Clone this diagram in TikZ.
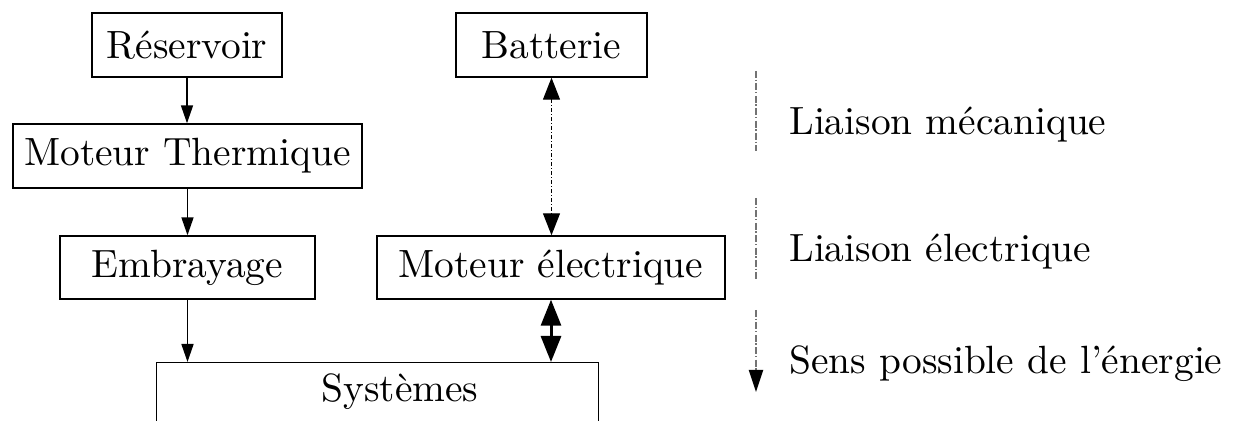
\documentclass[tikz,border=0pt]{standalone}
\usepackage{fontspec}
\setmainfont{lmroman10-regular}[Extension=.otf]
\usetikzlibrary{arrows.meta}
\newcommand\bigtxt{\fontsize{19.7}{23.6}\selectfont}
\begin{document}
\begin{tikzpicture}[x=0.5pt,y=-0.5pt,
  box/.style={draw, line width=0.7pt, font=\bigtxt, inner sep=0pt, minimum height=32pt},
  legtext/.style={font=\bigtxt, anchor=base west, inner sep=0pt},
  mecarrow/.style={line width=0.8pt, -{Triangle[length=9pt,width=6pt]}},
  elecarrow/.style={line width=0.6pt, dash pattern=on 2pt off 1pt on 0.5pt off 1pt,
    {Triangle[length=11pt,width=8.5pt]}-{Triangle[length=11pt,width=8.5pt]}},
  energyarrow/.style={line width=1.5pt,
    {Triangle[length=13pt,width=10pt]}-{Triangle[length=13pt,width=10pt]}},
  legline/.style={line width=1pt, black!55, dash pattern=on 3.5pt off 0.8pt on 0.7pt off 1.2pt}
]
\useasboundingbox (0,0) rectangle (1233,421);
\clip (0,0) rectangle (1233,421);

\node[box, minimum width=95pt] (res) at (187,45) {Réservoir};
\node[box, minimum width=95.5pt] (bat) at (551.5,45) {Batterie};
\node[box, minimum width=174.5pt] (mt) at (187.5,156) {Moteur Thermique};
\node[box, minimum width=127.5pt, minimum height=31.5pt] (emb) at (187.5,267.5) {Embrayage};
\node[box, minimum width=174pt, minimum height=31.5pt] (mel) at (551,267.5) {Moteur électrique};
\node[box, minimum width=221pt, minimum height=60pt, anchor=north west] (sysbox) at (156,362) {};
\node[font=\bigtxt, anchor=base, inner sep=0pt] (sys) at (400,402) {Systèmes};

\draw[mecarrow] (res.south) -- (res.south |- mt.north);
\draw[mecarrow] (mt.south) -- (mt.south |- emb.north);
\draw[mecarrow] (emb.south) -- (emb.south |- sysbox.north);
\draw[elecarrow] (bat.south) -- (bat.south |- mel.north);
\draw[energyarrow] (mel.south) -- (mel.south |- sysbox.north);

\coordinate (m1) at (756,71);
\coordinate (m2) at (756,151);
\coordinate (e1) at (756,198);
\coordinate (e2) at (756,279);
\coordinate (s1) at (756,310);
\coordinate (s2) at (756,392);
\draw[legline] (m1) -- (m2);
\draw[legline] (e1) -- (e2);
\draw[legline, -{Triangle[length=11pt,width=7pt,color=black]}] (s1) -- (s2);

\node[legtext] (lm) at (789,135) {Liaison mécanique};
\node[legtext] (le) at (789,262) {Liaison électrique};
\node[legtext] (ls) at (789,374) {Sens possible de l’énergie};
\end{tikzpicture}
\end{document}
